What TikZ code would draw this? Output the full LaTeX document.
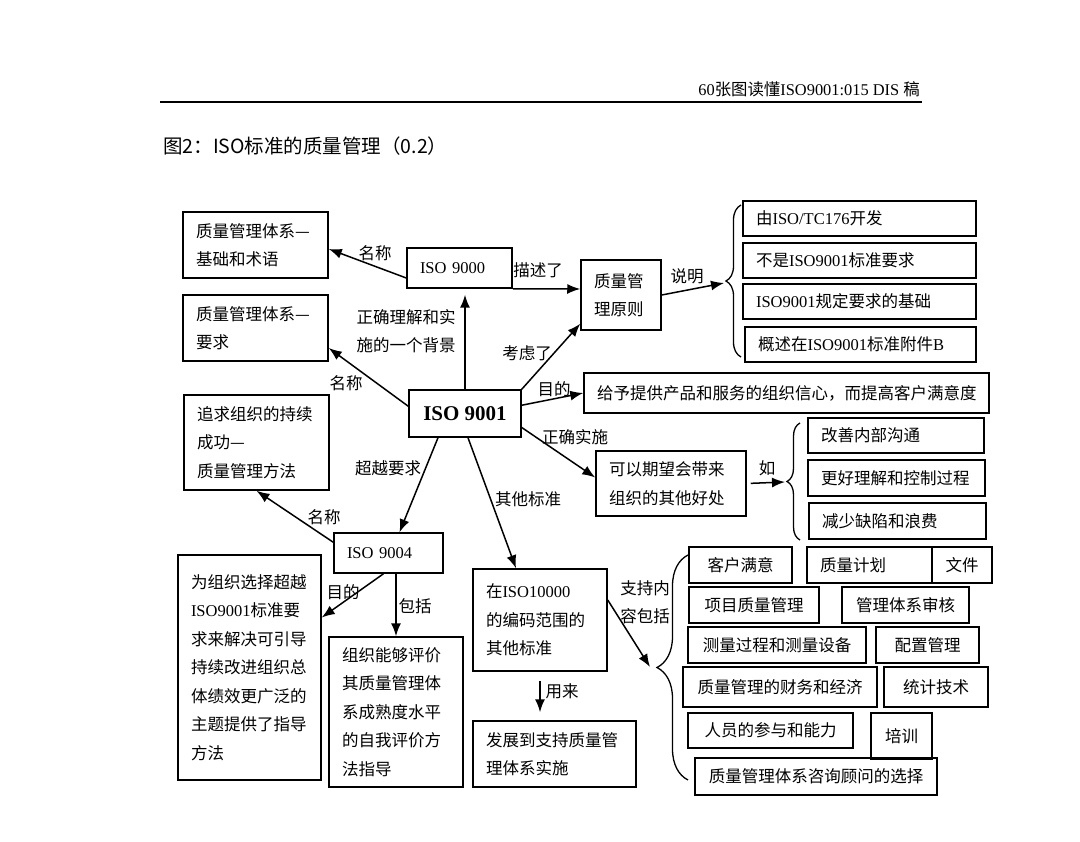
\documentclass[tikz,border=0pt]{standalone}
\usepackage{fontspec}
\setmainfont{Noto Sans CJK SC}
\newfontfamily\latnfont{Liberation Serif}
\newcommand\latn[1]{{\latnfont #1}}
\usetikzlibrary{arrows.meta}
\usetikzlibrary{decorations.pathreplacing}

\begin{document}
\begin{tikzpicture}[x=1pt, y=-1pt,
  box/.style={draw, line width=1.5pt, inner xsep=13pt, inner ysep=0pt, align=left, font=\fontsize{16.5}{28.5}\selectfont},
  cell/.style={draw, line width=1.5pt, inner sep=0pt, font=\fontsize{16.5}{20}\selectfont},
  lbl/.style={inner sep=0pt, align=left, font=\fontsize{16.5}{28.5}\selectfont},
  arr/.style={line width=1.5pt, -{Latex[length=13pt,width=10pt]}},
  brc/.style={line width=1.3pt, decorate, decoration={brace, amplitude=#1}}]
\fill[white] (0,0) rectangle (1080,842);
\useasboundingbox (0,0) rectangle (1080,842);
%
\node[anchor=east, inner sep=0pt, font=\fontsize{16.4}{18}\selectfont] (head) at (920,89) {\latn{60}张图读懂\latn{ISO9001:015 DIS }稿};
\draw[line width=2.2pt] (160,102) -- (922,102);
\node[anchor=west, inner sep=0pt, font=\fontsize{19.5}{22}\selectfont] (title) at (163,146) {图2：ISO标准的质量管理（0.2）};
%
\node[box, text width=119pt, minimum height=66pt] (fund) at (255.5,245) {质量管理体系—\\基础和术语};
\node[box, text width=119pt, minimum height=66pt] (req) at (255.5,328) {质量管理体系—\\要求};
\node[box, text width=79pt, minimum height=40pt] (iso0) at (459.5,268) {\latn{ISO 9000}};
\node[box, text width=54pt, minimum height=70pt] (prin) at (621,295) {质量管\\理原则};
\node[box, text width=207pt, minimum height=35pt] (dev) at (859.5,218.5) {由\latn{ISO/TC176}开发};
\node[box, text width=207pt, minimum height=35pt] (notreq) at (859.5,260.5) {不是\latn{ISO9001}标准要求};
\node[box, text width=207pt, minimum height=35pt] (basis) at (859.5,301.5) {\latn{ISO9001}规定要求的基础};
\node[box, text width=205pt, minimum height=35pt] (annex) at (860.5,344.5) {概述在\latn{ISO9001}标准附件\latn{B}};
\node[box, text width=379pt, minimum height=40pt] (trust) at (786.5,393) {给予提供产品和服务的组织信心，而提高客户满意度};
\node[draw, line width=1.5pt, minimum width=112pt, minimum height=47pt, font=\latnfont\bfseries\fontsize{21}{24}\selectfont] (iso1) at (465,413.5) {ISO 9001};
\node[box, text width=119pt, minimum height=95pt] (succ) at (256.5,442.5) {追求组织的持续\\成功—\\质量管理方法};
\node[box, text width=124pt, minimum height=65pt] (benef) at (671,483.5) {可以期望会带来\\组织的其他好处};
\node[box, text width=150pt, minimum height=35pt] (comm) at (896,435.5) {改善内部沟通};
\node[box, text width=151pt, minimum height=36pt] (proc) at (896.5,478) {更好理解和控制过程};
\node[box, text width=151pt, minimum height=36pt] (waste) at (897.5,521) {减少缺陷和浪费};
\node[box, text width=83pt, minimum height=40pt] (iso4) at (388.5,553) {\latn{ISO 9004}};
\node[box, text width=117pt, minimum height=225pt] (guide) at (249.5,667.5) {为组织选择超越\\\latn{ISO9001}标准要\\求来解决可引导\\持续改进组织总\\体绩效更广泛的\\主题提供了指导\\方法};
\node[box, text width=108pt, minimum height=150pt] (self) at (396,712) {组织能够评价\\其质量管理体\\系成熟度水平\\的自我评价方\\法指导};
\node[box, text width=108pt, minimum height=102pt] (other) at (540,620) {在\latn{ISO10000}\\的编码范围的\\其他标准};
\node[box, text width=137pt, minimum height=66pt] (impl) at (554.5,754) {发展到支持质量管\\理体系实施};
%
\node[cell, minimum width=103pt, minimum height=36pt] (sat) at (740.5,565) {客户满意};
\node[box, text width=99pt, minimum height=36pt] (plan) at (869.5,565) {质量计划};
\node[cell, minimum width=60pt, minimum height=36pt] (doc) at (962,565) {文件};
\node[cell, minimum width=130pt, minimum height=36pt] (proj) at (754,605) {项目质量管理};
\node[cell, minimum width=127pt, minimum height=36pt] (audit) at (905.5,605) {管理体系审核};
\node[cell, minimum width=178pt, minimum height=36pt] (meas) at (777,645) {测量过程和测量设备};
\node[cell, minimum width=103pt, minimum height=36pt] (config) at (927.5,645) {配置管理};
\node[cell, minimum width=194pt, minimum height=40pt] (econ) at (780,687) {质量管理的财务和经济};
\node[cell, minimum width=104pt, minimum height=40pt] (stat) at (936,687) {统计技术};
\node[cell, minimum width=165pt, minimum height=35pt] (people) at (770.5,730.5) {人员的参与和能力};
\node[cell, minimum width=61pt, minimum height=46pt] (train) at (901.5,736) {培训};
\node[cell, minimum width=242pt, minimum height=37pt] (consult) at (816,776.5) {质量管理体系咨询顾问的选择};
%
\draw[brc=15] (741,357) -- (741,205);
\coordinate (tipprin) at (724,283);
\draw[brc=13] (800,540) -- (800,423);
\coordinate (tipbenef) at (785,482);
\draw[brc=31] (688,780) -- (688,555);
\coordinate (tipother) at (650,667);
%
\node[lbl] (lname1) at (375,253) {名称};
\node[lbl] (ldesc) at (538,270) {描述了};
\node[lbl] (lback) at (406,331) {正确理解和实\\施的一个背景};
\node[lbl] (lcons) at (527,353) {考虑了};
\node[lbl] (lname2) at (346,383) {名称};
\node[lbl] (laim1) at (554,389) {目的};
\node[lbl] (limpl) at (575,437) {正确实施};
\node[lbl] (lbeyond) at (388,468) {超越要求};
\node[lbl] (lother) at (528,499) {其他标准};
\node[lbl] (lname3) at (324,517) {名称};
\node[lbl] (laim2) at (343,592) {目的};
\node[lbl] (lincl) at (415,606) {包括};
\node[lbl] (luse) at (562,691) {用来};
\node[lbl] (lsupp) at (645,602) {支持内\\容包括};
\node[lbl] (lexpl) at (687,276) {说明};
\node[lbl] (leg) at (767,468) {如};
%
\draw[arr] ([yshift=-10pt]iso0.west) -- ([yshift=-4pt]fund.east);
\draw[arr] (iso0.south east) -- ([yshift=6pt]prin.west);
\draw[arr, shorten >=6pt] (iso1.north) -- (iso1.north |- iso0.south);
\draw[arr] (iso1.north east) -- ([yshift=7pt]prin.south west);
\draw[arr] ([yshift=-17pt]iso1.north west) -- ([yshift=-20pt]req.east);
\draw[arr] ([yshift=-16pt]iso1.north east) -- (trust.west);
\draw[arr] ([yshift=-14pt]iso1.east) -- ([yshift=6pt]benef.west);
\draw[arr] ([xshift=-27pt]iso1.south) -- ([xshift=11pt]iso4.north);
\draw[arr] ([xshift=3pt]iso1.south) -- ([xshift=-24pt]other.north);
\draw[arr] ([yshift=-10pt]iso4.north west) -- (succ.south);
\draw[arr] ([xshift=-5pt]iso4.south) -- ([yshift=50pt]guide.east);
\draw[arr] (iso4.south -| self.north) -- (self.north);
\draw[arr, shorten <=9pt, shorten >=8pt] (other.south) -- (other.south |- impl.north);
\draw[arr] ([yshift=20pt]other.east) -- (tipother);
\draw[arr] (prin.east) -- (tipprin);
\draw[arr, shorten <=4pt] (benef.east) -- (tipbenef);
\end{tikzpicture}
\end{document}
